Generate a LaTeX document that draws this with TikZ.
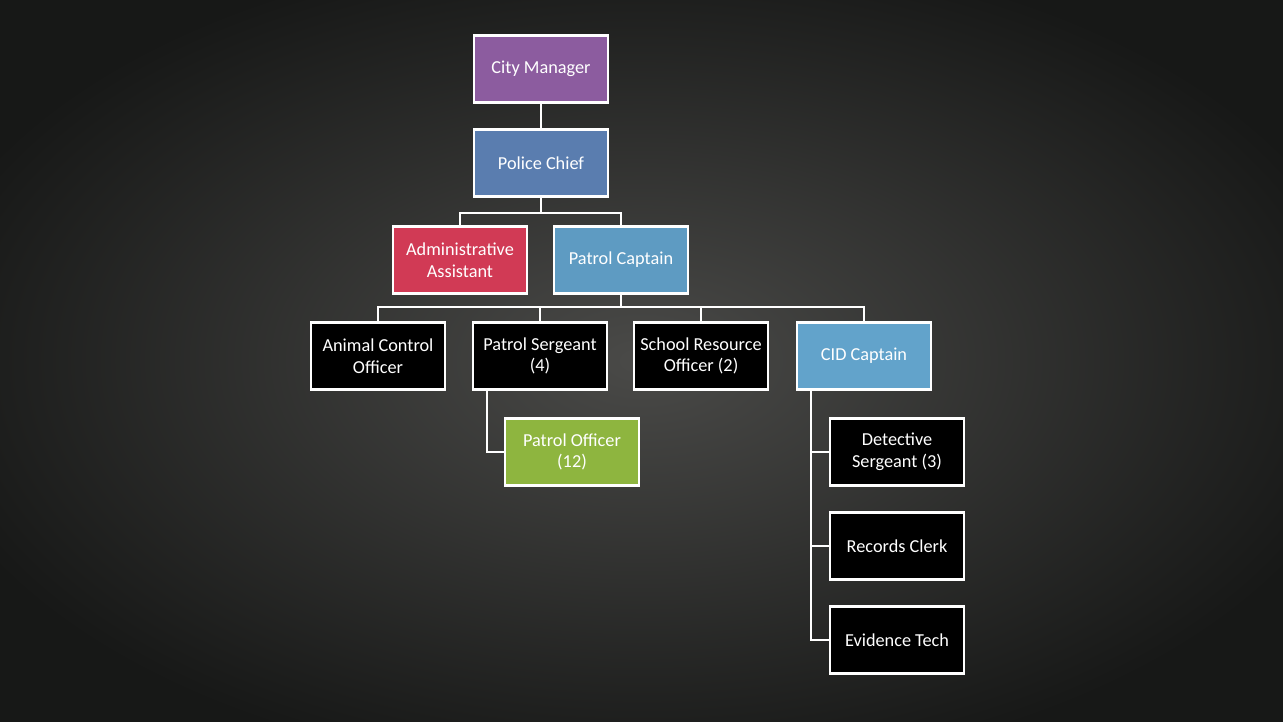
\documentclass[tikz,border=0pt]{standalone}
\usepackage{fontspec}
\setmainfont{Carlito}
\definecolor{bgin}{HTML}{4A4A48}
\definecolor{bgout}{HTML}{171817}
\definecolor{cmgr}{HTML}{8C5C9F}
\definecolor{chief}{HTML}{5A7DAF}
\definecolor{admin}{HTML}{D13A55}
\definecolor{pcapt}{HTML}{5E9BC2}
\definecolor{cid}{HTML}{62A3CB}
\definecolor{pofc}{HTML}{8EB53F}
\begin{document}
\begin{tikzpicture}[x=0.02cm,y=-0.02cm,
  box/.style={draw=white,line width=1.3pt,minimum width=2.68cm,minimum height=1.34cm,
    inner sep=1pt,align=center,text=white,font=\fontsize{10.4}{12.4}\selectfont},
  link/.style={draw=white,line width=1.2pt}]
  % backdrop
  \useasboundingbox (0,0) rectangle (1283,721);
  \shade[inner color=bgin,outer color=bgout] (-100,-60) rectangle (1383,781);

  % chain of command
  \node[box,fill=cmgr]  (cm)  at (541,69)  {City Manager};
  \node[box,fill=chief] (pc)  at (541,163) {Police Chief};
  \node[box,fill=admin] (aa)  at (460,260) {Administrative\\Assistant};
  \node[box,fill=pcapt] (cap) at (621,260) {Patrol Captain};

  \node[box,fill=black] (ac)  at (378,356) {Animal Control\\Officer};
  \node[box,fill=black] (ps)  at (540,356) {Patrol Sergeant\\(4)};
  \node[box,fill=black] (sro) at (701,356) {School Resource\\Officer (2)};
  \node[box,fill=cid]   (cidc) at (864,356) {CID Captain};

  \node[box,fill=pofc]  (po)  at (572,452) {Patrol Officer\\(12)};

  \node[box,fill=black] (ds)  at (897,452) {Detective\\Sergeant (3)};
  \node[box,fill=black] (rc)  at (897,546) {Records Clerk};
  \node[box,fill=black] (et)  at (897,640) {Evidence Tech};

  % connectors
  \draw[link] (cm.south) -- (pc.north);
  \draw[link] (pc.south) -- ++(0,15) -| (aa.north);
  \draw[link] (pc.south) -- ++(0,15) -| (cap.north);
  \coordinate (bus) at (621,307);
  \draw[link] (cap.south) -- (bus);
  \draw[link] (bus) -| (ac.north);
  \draw[link] (bus) -| (ps.north);
  \draw[link] (bus) -| (sro.north);
  \draw[link] (bus) -| (cidc.north);

  \coordinate (psl) at (487,390);
  \draw[link] (psl) |- (po.west);

  \coordinate (cidl) at (811,390);
  \draw[link] (cidl) |- (ds.west);
  \draw[link] (cidl) |- (rc.west);
  \draw[link] (cidl) |- (et.west);
\end{tikzpicture}
\end{document}
